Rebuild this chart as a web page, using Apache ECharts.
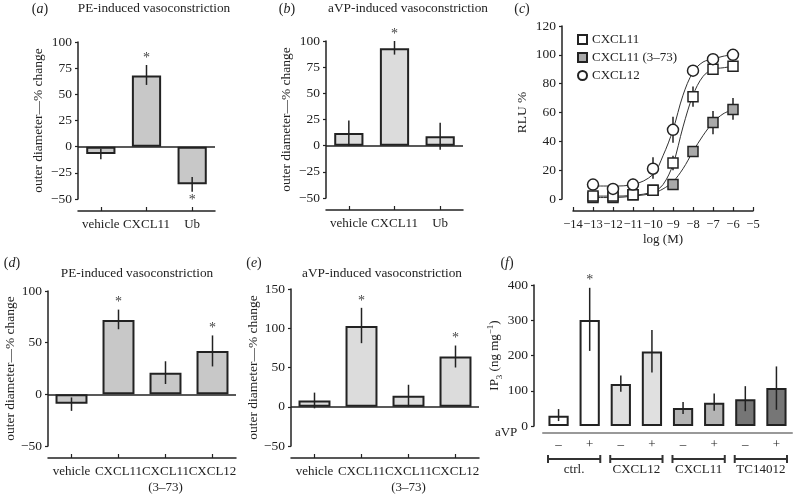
<!DOCTYPE html>
<html><head><meta charset="utf-8">
<script src="https://cdn.jsdelivr.net/npm/echarts@6/dist/echarts.min.js"></script>
<style>html,body{margin:0;padding:0;background:#fff}#c{width:796px;height:496px}</style>
</head><body><div id="c"></div>
<script>
// ---------- data ----------
// (a) PE-induced
const catsAB = ['vehicle', 'CXCL11', 'Ub'];
const aMean = [-7, 68, -36];
const aLow = [-12, 59, -43];
const aHigh = [-2, 78, -29];
const aStar = [0, 1, 1];
// (b) aVP-induced
const bMean = [12, 93, 9];
const bLow = [0, 87, -4];
const bHigh = [24, 100, 22];
const bStar = [0, 1, 0];
// (c) RLU %
const logM = [-13, -12, -11, -10, -9, -8, -7, -6];
const c11 = [2, 2, 3, 6, 25, 71, 90, 92];
const c11Low = [null, null, null, null, 20, 64, null, null];
const c11High = [null, null, null, null, 30, 78, null, null];
const c373 = [1, 1, 3, 6, 10, 33, 53, 62];
const c373Low = [null, null, null, null, null, 30, 45, 55];
const c373High = [null, null, null, null, null, 36, 61, 70];
const c12 = [10, 7, 10, 21, 48, 89, 97, 100];
const c12Low = [null, null, 7, 14, 39, null, null, null];
const c12High = [null, null, 14, 29, 57, null, null, null];
const fitX = [-13, -12, -11, -10, -9.5, -9, -8.5, -8, -7.5, -7, -6.5, -6];
const fit11 = [2, 2, 2.5, 5, 10, 24, 50, 72, 85, 90, 91, 92];
const fit373 = [1, 1, 2, 4, 7, 12, 21, 33, 44, 53, 59, 62];
const fit12 = [9, 9, 10, 17, 30, 48, 72, 88, 95, 97, 99, 100];
// (d) PE-induced
const catsDE = ['vehicle', 'CXCL11', 'CXCL11\n(3–73)', 'CXCL12'];
const dMean = [-9, 72, 21, 42];
const dLow = [-16, 63, 10, 27];
const dHigh = [-3, 82, 32, 57];
const dStar = [0, 1, 0, 1];
// (e) aVP-induced
const eMean = [8, 103, 14, 64];
const eLow = [-2, 81, 0, 50];
const eHigh = [18, 126, 28, 78];
const eStar = [0, 1, 0, 1];
// (f) IP3
const fCats = ['–', '+', '–', '+', '–', '+', '–', '+'];
const fGroups = ['ctrl.', 'CXCL12', 'CXCL11', 'TC14012'];
const fMean = [29, 301, 119, 211, 51, 66, 76, 108];
const fLow = [14, 213, 97, 152, 34, 43, 42, 46];
const fHigh = [48, 392, 143, 272, 68, 92, 113, 169];
const fStar = [0, 1, 0, 0, 0, 0, 0, 0];

// ---------- styles ----------
const FF = 'Liberation Serif';
const TXT = '#222';
const fColors = ['#ffffff', '#e0e0e0', '#b4b4b4', '#767676'];
const minus = v => (v < 0 ? '−' + Math.abs(v) : String(v));

function errData(xs, lows, highs, means, stars) {
  const out = [];
  xs.forEach((x, i) => {
    if (lows[i] == null || highs[i] == null) return;
    out.push([x, lows[i], highs[i], stars ? stars[i] : 0, means[i]]);
  });
  return out;
}
function errRender(params, api) {
  const x = api.value(0), lo = api.value(1), hi = api.value(2), st = api.value(3), m = api.value(4);
  const p1 = api.coord([x, lo]), p2 = api.coord([x, hi]);
  const ch = [{ type: 'line', shape: { x1: p1[0], y1: p1[1], x2: p2[0], y2: p2[1] },
    style: { stroke: '#222', lineWidth: 1.5 } }];
  if (st) {
    const up = m >= 0;
    const p = up ? p2 : p1;
    ch.push({ type: 'text', x: p[0], y: up ? p[1] : p[1] + 2,
      style: { text: '*', fontFamily: FF, fontSize: 14, fill: '#444', align: 'center',
        verticalAlign: up ? 'bottom' : 'top' } });
  }
  return { type: 'group', children: ch };
}
function yAx(grid, min, max, interval, name, nameGap, offset) {
  return {
    type: 'value', gridIndex: grid, min, max, interval, offset: offset || 0,
    name, nameLocation: 'middle', nameGap, nameRotate: 90,
    nameTextStyle: { fontFamily: FF, fontSize: 13.5, color: TXT },
    axisLine: { show: true, lineStyle: { color: '#222', width: 1.5 } },
    axisTick: { show: true, length: 3, lineStyle: { color: '#222', width: 1.2 } },
    axisLabel: { fontFamily: FF, fontSize: 13.5, color: TXT, margin: 6, formatter: minus },
    splitLine: { show: false }
  };
}
function xCat(grid, data, offset, extra) {
  return Object.assign({
    type: 'category', gridIndex: grid, data, position: 'bottom', offset,
    axisLine: { onZero: false, lineStyle: { color: '#222', width: 1.5 } },
    axisTick: { show: true, inside: true, length: 4, alignWithLabel: true, lineStyle: { color: '#222', width: 1.2 } },
    axisLabel: { fontFamily: FF, fontSize: 13, color: TXT, margin: 6, lineHeight: 16, interval: 0, hideOverlap: false },
    splitLine: { show: false }
  }, extra || {});
}
function barPanel(idx, means, lows, highs, stars, fill, bw) {
  return [
    { type: 'bar', xAxisIndex: idx, yAxisIndex: idx, data: means, barWidth: bw,
      itemStyle: { color: fill, borderColor: '#222', borderWidth: 2 },
      markLine: { silent: true, symbol: 'none', label: { show: false },
        lineStyle: { color: '#222', width: 1.5, type: 'solid' }, data: [{ yAxis: 0 }] },
      z: 2 },
    { type: 'custom', xAxisIndex: idx, yAxisIndex: idx, renderItem: errRender, clip: false, z: 3,
      data: errData(means.map((_, i) => i), lows, highs, means, stars) }
  ];
}

const series = [].concat(
  barPanel(0, aMean, aLow, aHigh, aStar, '#c8c8c8', '64%'),
  barPanel(1, bMean, bLow, bHigh, bStar, '#dcdcdc', '64%'),
  barPanel(3, dMean, dLow, dHigh, dStar, '#c8c8c8', '68%'),
  barPanel(4, eMean, eLow, eHigh, eStar, '#dcdcdc', '68%')
);

// (c) curves
const fitStyle = { type: 'line', xAxisIndex: 2, yAxisIndex: 2, showSymbol: false, smooth: 0.35,
  lineStyle: { color: '#333', width: 1 }, silent: true, z: 1 };
series.push(Object.assign({}, fitStyle, { data: fitX.map((x, i) => [x, fit373[i]]) }));
series.push(Object.assign({}, fitStyle, { data: fitX.map((x, i) => [x, fit11[i]]) }));
series.push(Object.assign({}, fitStyle, { data: fitX.map((x, i) => [x, fit12[i]]) }));
series.push({ type: 'custom', xAxisIndex: 2, yAxisIndex: 2, renderItem: errRender, z: 2, clip: false,
  data: [].concat(errData(logM, c373Low, c373High, c373), errData(logM, c11Low, c11High, c11),
    errData(logM, c12Low, c12High, c12)) });
series.push({ type: 'scatter', name: 'CXCL11 (3–73)', xAxisIndex: 2, yAxisIndex: 2, symbol: 'rect', symbolSize: 10,
  itemStyle: { color: '#a9a9a9', borderColor: '#222', borderWidth: 1.5, opacity: 1 }, z: 4,
  data: logM.map((x, i) => [x, c373[i]]) });
series.push({ type: 'scatter', name: 'CXCL11', xAxisIndex: 2, yAxisIndex: 2, symbol: 'rect', symbolSize: 10,
  itemStyle: { color: '#ffffff', borderColor: '#222', borderWidth: 1.5, opacity: 1 }, z: 5,
  data: logM.map((x, i) => [x, c11[i]]) });
series.push({ type: 'scatter', name: 'CXCL12', xAxisIndex: 2, yAxisIndex: 2, symbol: 'circle', symbolSize: 11,
  itemStyle: { color: '#ffffff', borderColor: '#222', borderWidth: 1.5, opacity: 1 }, z: 5,
  data: logM.map((x, i) => [x, c12[i]]) });

// (f)
series.push({ type: 'bar', xAxisIndex: 5, yAxisIndex: 5, barWidth: '65%',
  data: fMean.map((v, i) => ({ value: v, itemStyle: { color: fColors[Math.floor(i / 2)] } })),
  itemStyle: { borderColor: '#222', borderWidth: 2 }, z: 2 });
series.push({ type: 'custom', xAxisIndex: 5, yAxisIndex: 5, renderItem: errRender, clip: false, z: 3,
  data: errData(fMean.map((_, i) => i), fLow, fHigh, fMean, fStar) });
series.push({ type: 'custom', xAxisIndex: 5, yAxisIndex: 5, clip: false, z: 3,
  data: fGroups.map((g, i) => [2 * i, 0, 2 * i + 1]),
  renderItem: function (params, api) {
    const a = api.coord([api.value(0), 0]), b = api.coord([api.value(2), 0]);
    const half = api.size([1, 0])[0] * 0.34;
    const y = a[1] + 33, x1 = a[0] - half, x2 = b[0] + half;
    const st = { stroke: '#333', lineWidth: 2 };
    return { type: 'group', children: [
      { type: 'line', shape: { x1, y1: y, x2, y2: y }, style: st },
      { type: 'line', shape: { x1, y1: y - 4, x2: x1, y2: y + 4 }, style: st },
      { type: 'line', shape: { x1: x2, y1: y - 4, x2, y2: y + 4 }, style: st }
    ] };
  } });

function label(x, y, letter) {
  return { type: 'text', x, y, style: { text: '({i|' + letter + '})', fontFamily: FF, fontSize: 14, fill: TXT,
    align: 'center', verticalAlign: 'middle',
    rich: { i: { fontStyle: 'italic', fontFamily: FF, fontSize: 14, fill: TXT } } } };
}
function ttl(x, y, t) {
  return { type: 'text', x, y, style: { text: t, fontFamily: FF, fontSize: 13.3, fill: TXT, align: 'center', verticalAlign: 'middle' } };
}

const option = {
  animation: false,
  backgroundColor: '#fff',
  textStyle: { fontFamily: FF },
  grid: [
    { left: 78, top: 42, width: 137, height: 157 },
    { left: 326, top: 41, width: 137, height: 157 },
    { left: 573, top: 26, width: 180, height: 173 },
    { left: 48, top: 291, width: 188, height: 156 },
    { left: 291, top: 289, width: 188, height: 158 },
    { left: 543, top: 285, width: 249, height: 141 }
  ],
  xAxis: [
    xCat(0, catsAB, 12),
    xCat(1, catsAB, 12),
    { type: 'value', gridIndex: 2, min: -14, max: -5, interval: 1, position: 'bottom', offset: 12,
      name: 'log (M)', nameLocation: 'middle', nameGap: 22,
      nameTextStyle: { fontFamily: FF, fontSize: 13, color: TXT },
      axisLine: { onZero: false, lineStyle: { color: '#222', width: 1.5 } },
      axisTick: { inside: true, length: 4, lineStyle: { color: '#222', width: 1.2 } },
      axisLabel: { fontFamily: FF, fontSize: 12.5, color: TXT, margin: 7, formatter: minus,
        showMinLabel: true, showMaxLabel: true, hideOverlap: false, interval: 0 },
      splitLine: { show: false } },
    xCat(3, catsDE, 12),
    xCat(4, catsDE, 12),
    xCat(5, fCats, 7, {
      name: 'aVP', nameLocation: 'start', nameGap: 2,
      nameTextStyle: { fontFamily: FF, fontSize: 13, color: TXT, padding: [30, 0, 0, 0] },
      axisLine: { onZero: false, lineStyle: { color: '#999', width: 2 } },
      axisTick: { show: false },
      axisLabel: { fontFamily: FF, fontSize: 13, color: TXT, margin: 5, interval: 0 } }),
    xCat(5, fGroups, 7, {
      axisLine: { show: false, onZero: false }, axisTick: { show: false },
      axisLabel: { fontFamily: FF, fontSize: 13, color: TXT, margin: 30, interval: 0 } })
  ],
  yAxis: [
    yAx(0, -50, 100, 25, 'outer diameter—% change', 33),
    yAx(1, -50, 100, 25, 'outer diameter—% change', 33),
    yAx(2, 0, 120, 20, 'RLU %', 33, 11),
    yAx(3, -50, 100, 50, 'outer diameter—% change', 31),
    yAx(4, -50, 150, 50, 'outer diameter—% change', 27),
    Object.assign(yAx(5, 0, 400, 100, '', 22, 9), {
      name: '{n|IP}{s|3}{n| (ng mg}{p|−1}{n|)}',
      nameTextStyle: { fontFamily: FF, fontSize: 13, color: TXT,
        rich: {
          n: { fontFamily: FF, fontSize: 13, color: TXT, lineHeight: 18, verticalAlign: 'middle' },
          s: { fontFamily: FF, fontSize: 9, color: TXT, lineHeight: 18, verticalAlign: 'bottom' },
          p: { fontFamily: FF, fontSize: 9, color: TXT, lineHeight: 18, verticalAlign: 'top' }
        } } })
  ],
  legend: {
    left: 572, top: 28, orient: 'vertical', itemGap: 5, itemWidth: 9, itemHeight: 9,
    textStyle: { fontFamily: FF, fontSize: 13, color: TXT },
    data: [{ name: 'CXCL11', icon: 'rect' }, { name: 'CXCL11 (3–73)', icon: 'rect' }, { name: 'CXCL12', icon: 'circle' }]
  },
  graphic: [
    label(40, 9, 'a'), ttl(154, 9, 'PE-induced vasoconstriction'),
    label(287, 9, 'b'), ttl(408, 9, 'aVP-induced vasoconstriction'),
    label(522, 9, 'c'),
    label(12, 263, 'd'), ttl(137, 274, 'PE-induced vasoconstriction'),
    label(254, 263, 'e'), ttl(382, 274, 'aVP-induced vasoconstriction'),
    label(507, 263, 'f')
  ],
  series
};
echarts.init(document.getElementById('c'), null, { renderer: 'canvas' }).setOption(option);
</script></body></html>
